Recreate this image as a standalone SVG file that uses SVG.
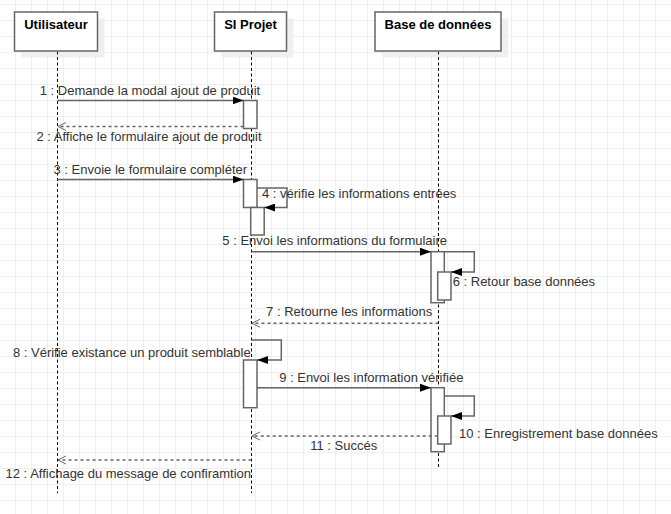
<svg xmlns="http://www.w3.org/2000/svg" width="671" height="514" viewBox="0 0 671 514">
<style>
.box{fill:#fff;stroke:#666;stroke-width:1.5}
.shadow{fill:#efefef}
.head{font-family:"Liberation Sans",Arial,sans-serif;font-size:13px;font-weight:bold;fill:#000;text-anchor:middle}
.life{stroke:#000;stroke-width:1;stroke-dasharray:3 2.5;fill:none}
.act{fill:#fff;stroke:#666;stroke-width:1.5}
.msg{fill:none;stroke:#666;stroke-width:1.5}
.ret{fill:none;stroke:#666;stroke-width:1.5;stroke-dasharray:3 3}
.lbl{font-family:"Liberation Sans",Arial,sans-serif;font-size:13px;fill:#333}
.m{text-anchor:middle}
.e{text-anchor:end}
</style>
<defs>
<pattern id="gridp" x="15" y="4" width="16" height="16" patternUnits="userSpaceOnUse">
<path d="M0 0.5H16M0.5 0V16" stroke="#efefef" stroke-width="1" fill="none"/>
</pattern>
<marker id="block" viewBox="0 0 11 8" refX="11" refY="4" markerWidth="11" markerHeight="8" markerUnits="userSpaceOnUse" orient="auto">
<path d="M0 0L11 4L0 8z" fill="#000"/>
</marker>
<marker id="open" viewBox="0 0 10 10" refX="9" refY="5" markerWidth="10" markerHeight="10" markerUnits="userSpaceOnUse" orient="auto">
<path d="M1 1L9 5L1 9" fill="none" stroke="#666" stroke-width="1"/>
</marker>
</defs>
<rect width="671" height="514" fill="#fff"/>
<rect width="671" height="514" fill="url(#gridp)"/>

<g id="utilisateur">
<rect class="shadow" x="21.5" y="18.5" width="83" height="39"/>
<line class="life" x1="57.5" y1="51.5" x2="57.5" y2="493"/>
<rect class="box" x="14.5" y="12" width="83" height="39"/>
<text class="head" x="56" y="29.3">Utilisateur</text>
</g>

<g id="si-projet">
<rect class="shadow" x="221.5" y="18.5" width="72" height="39"/>
<line class="life" x1="251.5" y1="51.5" x2="251.5" y2="493"/>
<rect class="box" x="214.5" y="12" width="72" height="39"/>
<text class="head" x="250.5" y="29.3">SI Projet</text>
</g>

<g id="base-de-donnees">
<rect class="shadow" x="382" y="18.5" width="126" height="39"/>
<line class="life" x1="438.5" y1="51.5" x2="438.5" y2="468"/>
<rect class="box" x="375" y="12" width="126" height="39"/>
<text class="head" x="438" y="29.3">Base de données</text>
</g>

<g id="activations">
<rect class="act" x="243.5" y="100.5" width="13.5" height="28"/>
<rect class="act" x="243.5" y="179.5" width="13.5" height="28"/>
<rect class="act" x="250.7" y="207.5" width="13.5" height="27.5"/>
<rect class="act" x="431" y="251.7" width="13.3" height="51"/>
<rect class="act" x="437.7" y="272" width="13.3" height="28"/>
<rect class="act" x="243.5" y="360" width="13.5" height="47.7"/>
<rect class="act" x="431" y="387.7" width="13.3" height="64"/>
<rect class="act" x="437.7" y="416" width="13.3" height="28"/>
</g>

<g id="connectors">
<line class="msg" x1="57.5" y1="100.5" x2="243.5" y2="100.5" marker-end="url(#block)"/>
<line class="ret" x1="243.5" y1="126.5" x2="58" y2="126.5" marker-end="url(#open)"/>
<line class="msg" x1="57.5" y1="179.5" x2="243.5" y2="179.5" marker-end="url(#block)"/>
<path class="msg" d="M257 188H287V207.5H264.2" marker-end="url(#block)"/>
<line class="msg" x1="251.5" y1="251.7" x2="431" y2="251.7" marker-end="url(#block)"/>
<path class="msg" d="M444.3 251.7H474.3V272H451" marker-end="url(#block)"/>
<line class="ret" x1="438.5" y1="323.3" x2="252" y2="323.3" marker-end="url(#open)"/>
<path class="msg" d="M251.5 340H281.3V360H257" marker-end="url(#block)"/>
<line class="msg" x1="257" y1="387.7" x2="431" y2="387.7" marker-end="url(#block)"/>
<path class="msg" d="M444.3 396H474.3V416H451" marker-end="url(#block)"/>
<line class="ret" x1="437.7" y1="436" x2="252" y2="436" marker-end="url(#open)"/>
<line class="ret" x1="251.5" y1="460" x2="58" y2="460" marker-end="url(#open)"/>
</g>

<g id="labels">
<text class="lbl m" x="150" y="94.5">1 : Demande la modal ajout de produit</text>
<text class="lbl m" x="149" y="140.5">2 : Affiche le formulaire ajout de produit</text>
<text class="lbl m" x="150.3" y="174">3 : Envoie le formulaire compléter</text>
<text class="lbl" x="262" y="197.5">4 : vérifie les informations entrées</text>
<text class="lbl m" x="334.7" y="245">5 : Envoi les informations du formulaire</text>
<text class="lbl" x="452.7" y="286">6 : Retour base données</text>
<text class="lbl m" x="349.2" y="315.7">7 : Retourne les informations</text>
<text class="lbl e" x="250.7" y="357">8 : Vérifie existance un produit semblable</text>
<text class="lbl m" x="371.3" y="382">9 : Envoi les information vérifiée</text>
<text class="lbl" x="459" y="438">10 : Enregistrement base données</text>
<text class="lbl m" x="343.7" y="450">11 : Succés</text>
<text class="lbl m" x="128.3" y="478">12 : Affichage du message de confiramtion</text>
</g>
</svg>
